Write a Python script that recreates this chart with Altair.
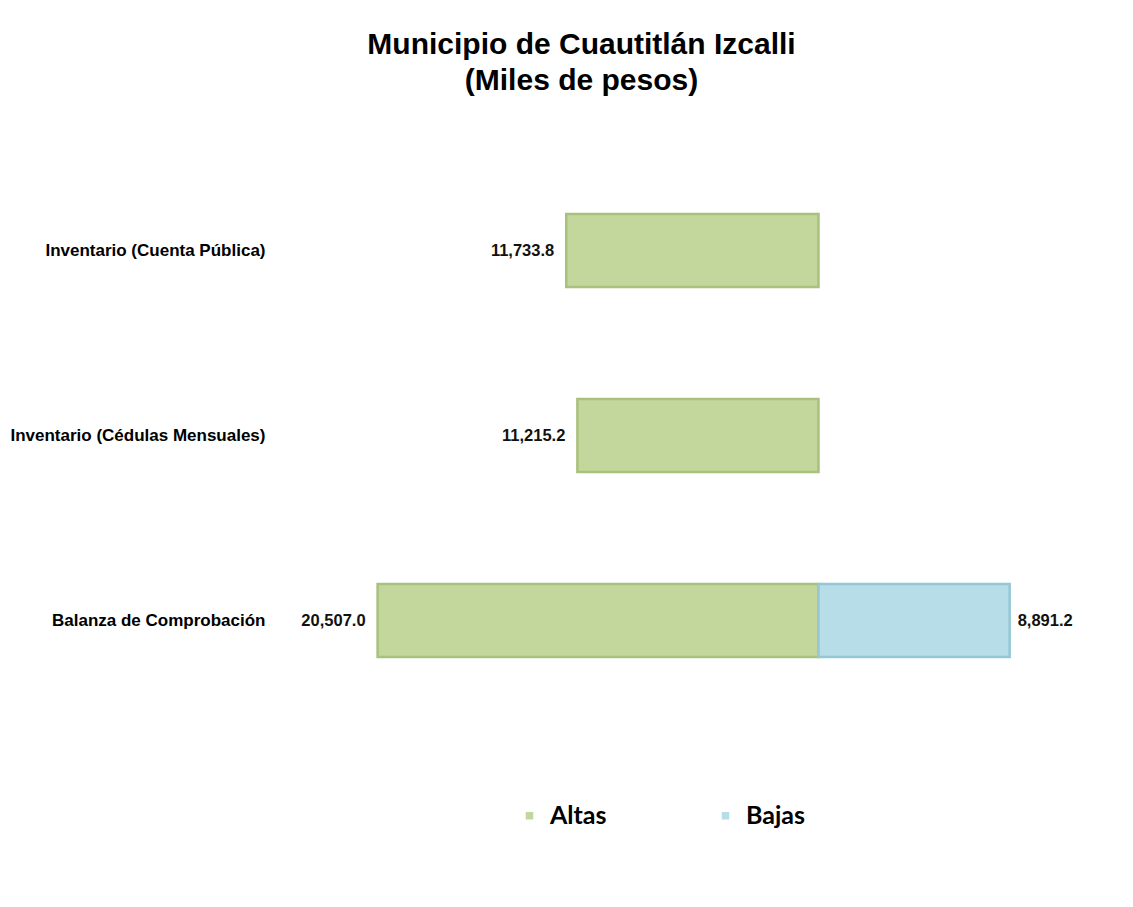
import altair as alt
import pandas as pd

categories = ["Inventario (Cuenta Pública)", "Inventario (Cédulas Mensuales)", "Balanza de Comprobación"]
altas = [11733.8, 11215.2, 20507.0]
bajas = [None, None, 8891.2]
series = ["Altas", "Bajas"]
fills = ["#c3d69b", "#b7dde8"]
strokes = ["#a8c17d", "#95c7d5"]

rows = []
for c, a, b in zip(categories, altas, bajas):
    rows.append({"cat": c, "serie": "Altas", "valor": a, "pos": -a})
    if b is not None:
        rows.append({"cat": c, "serie": "Bajas", "valor": b, "pos": b})
df = pd.DataFrame(rows)

xscale = alt.Scale(domain=[-25000, 13000], nice=False, zero=True)
yenc = alt.Y(
    "cat:N",
    sort=categories,
    scale=alt.Scale(paddingInner=0, paddingOuter=0),
    axis=alt.Axis(
        title=None, domain=False, ticks=False, labelPadding=16,
        labelFont="Liberation Sans", labelFontSize=17, labelFontWeight="bold",
        labelColor="black", labelLimit=400,
    ),
)

base = alt.Chart(df)

bars = base.mark_bar(size=73, strokeWidth=2.5).encode(
    x=alt.X("pos:Q", scale=xscale, axis=None, stack=None),
    y=yenc,
    color=alt.Color(
        "serie:N",
        scale=alt.Scale(domain=series, range=fills),
        legend=alt.Legend(
            title=None, orient="none", direction="horizontal",
            legendX=236, legendY=645, padding=0,
            symbolType="square", symbolSize=56, symbolStrokeWidth=0,
            labelFont="Lato", labelFontSize=25, labelFontWeight="bold",
            labelColor="black", labelOffset=8, columnPadding=106,
        ),
    ),
    stroke=alt.Stroke("serie:N", scale=alt.Scale(domain=series, range=strokes), legend=None),
)

txt_style = dict(font="Liberation Sans", fontSize=16.5, fontWeight="bold", color="#111111", baseline="middle")

left_labels = base.transform_filter(alt.datum.serie == "Altas").mark_text(align="right", dx=-12, **txt_style).encode(
    x=alt.X("pos:Q", scale=xscale, axis=None),
    y=yenc,
    text=alt.Text("valor:Q", format=",.1f"),
)

right_labels = base.transform_filter(alt.datum.serie == "Bajas").mark_text(align="left", dx=8, **txt_style).encode(
    x=alt.X("pos:Q", scale=xscale, axis=None),
    y=yenc,
    text=alt.Text("valor:Q", format=",.1f"),
)

chart = alt.layer(bars, left_labels, right_labels).properties(
    width=817,
    height=555,
    padding={"left": 273, "top": 150, "right": 27, "bottom": 140},
    autosize=alt.AutoSizeParams(type="none"),
    background="white",
    title=alt.TitleParams(
        text=["Municipio de Cuautitlán Izcalli", "(Miles de pesos)"],
        font="Liberation Sans", fontSize=30, fontWeight="bold", color="black",
        anchor="middle", frame="group", dx=-108, offset=32, lineHeight=36,
        baseline="bottom",
    ),
).configure_view(stroke=None).configure_axis(grid=False)

chart.save("out.html", embed_options={"renderer": "svg", "actions": False})
